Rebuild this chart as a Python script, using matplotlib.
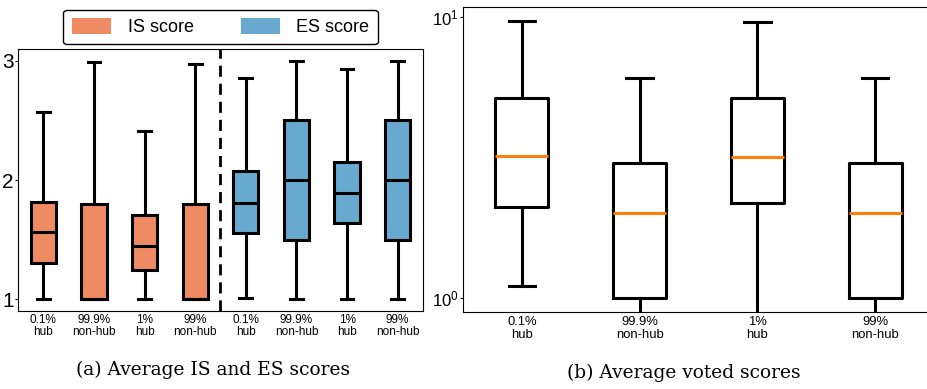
import matplotlib
matplotlib.use("Agg")
import matplotlib.pyplot as plt
from matplotlib.patches import Patch
from matplotlib.ticker import NullLocator

# group labels shared by both panels
labels = ["0.1%\nhub", "99.9%\nnon-hub", "1%\nhub", "99%\nnon-hub"]

# IS / ES score box statistics (low whisker, q1, median, q3, high whisker)
is_lo = [1.0, 1.0, 1.0, 1.0]
is_q1 = [1.30, 1.0, 1.245, 1.0]
is_med = [1.56, 1.0, 1.445, 1.0]
is_q3 = [1.815, 1.80, 1.71, 1.80]
is_hi = [2.57, 2.99, 2.41, 2.97]

es_lo = [1.01, 1.0, 1.0, 1.0]
es_q1 = [1.555, 1.5, 1.64, 1.5]
es_med = [1.805, 2.0, 1.89, 2.0]
es_q3 = [2.075, 2.5, 2.15, 2.5]
es_hi = [2.86, 3.0, 2.93, 3.0]

# average voted scores (log scale)
vote_lo = [1.10, 0.6, 0.6, 0.6]
vote_q1 = [2.11, 1.0, 2.18, 1.0]
vote_med = [3.2, 2.01, 3.18, 2.01]
vote_q3 = [5.15, 3.02, 5.15, 3.02]
vote_hi = [9.7, 6.07, 9.6, 6.07]

IS_COLOR = "#ef8a62"
ES_COLOR = "#67a9cf"


def make_stats(lo, q1, med, q3, hi):
    return [dict(whislo=a, q1=b, med=c, q3=d, whishi=e, fliers=[])
            for a, b, c, d, e in zip(lo, q1, med, q3, hi)]


fig = plt.figure(figsize=(9.27, 3.89), dpi=100)
plt.rcParams["font.family"] = ["Liberation Sans", "DejaVu Sans"]

lw = 2.2
line_kw = dict(color="black", linewidth=lw)

# (a) IS and ES scores
ax1 = fig.add_axes([0.0194, 0.2005, 0.4369, 0.6735])
stats = make_stats(is_lo, is_q1, is_med, is_q3, is_hi) + \
    make_stats(es_lo, es_q1, es_med, es_q3, es_hi)
bp = ax1.bxp(stats, positions=range(1, 9), widths=0.5, patch_artist=True,
             showfliers=False,
             boxprops=dict(edgecolor="black", linewidth=lw),
             medianprops=line_kw, whiskerprops=line_kw, capprops=line_kw)
for i, box in enumerate(bp["boxes"]):
    box.set_facecolor(IS_COLOR if i < 4 else ES_COLOR)
ax1.axvline(4.5, color="black", linestyle="--", linewidth=2, dashes=(4, 2.5))
ax1.set_xlim(0.5, 8.5)
ax1.set_ylim(0.9, 3.1)
ax1.set_yticks([1, 2, 3])
ax1.set_xticks(range(1, 9))
ax1.set_xticklabels(labels * 2, fontsize=8.5, linespacing=1.05)
ax1.tick_params(axis="y", labelsize=15, length=2, pad=1)
ax1.tick_params(axis="x", length=0, pad=2)

fig.legend(handles=[Patch(facecolor=IS_COLOR, edgecolor="none", label="IS score"),
                    Patch(facecolor=ES_COLOR, edgecolor="none", label="ES score")],
           loc="center", bbox_to_anchor=(0.2379, 0.9306), ncol=2, fontsize=13,
           frameon=True, fancybox=True, edgecolor="black", framealpha=1,
           handlelength=2.2, handleheight=0.95, handletextpad=0.9,
           columnspacing=2.6, borderpad=0.45)

fig.text(0.2303, 0.048, "(a) Average IS and ES scores", ha="center",
         va="center", fontsize=13.4, family="DejaVu Serif")

# (b) average voted scores
ax2 = fig.add_axes([0.4995, 0.198, 0.5081, 0.784])
ax2.bxp(make_stats(vote_lo, vote_q1, vote_med, vote_q3, vote_hi),
        positions=range(1, 5), widths=0.45, showfliers=False,
        boxprops=dict(color="black", linewidth=lw),
        medianprops=dict(color="#ff7f0e", linewidth=lw),
        whiskerprops=line_kw, capprops=line_kw)
ax2.set_yscale("log")
ax2.set_ylim(0.89, 10.85)
ax2.yaxis.set_minor_locator(NullLocator())
ax2.set_xlim(0.5, 4.5)
ax2.set_xticks(range(1, 5))
ax2.set_xticklabels(labels, fontsize=9.4, linespacing=1.05)
ax2.tick_params(axis="y", labelsize=12, length=2, pad=1)
ax2.tick_params(axis="x", length=0, pad=3)

fig.text(0.7373, 0.041, "(b) Average voted scores", ha="center",
         va="center", fontsize=13.4, family="DejaVu Serif")

fig.savefig("out.png", dpi=100)
